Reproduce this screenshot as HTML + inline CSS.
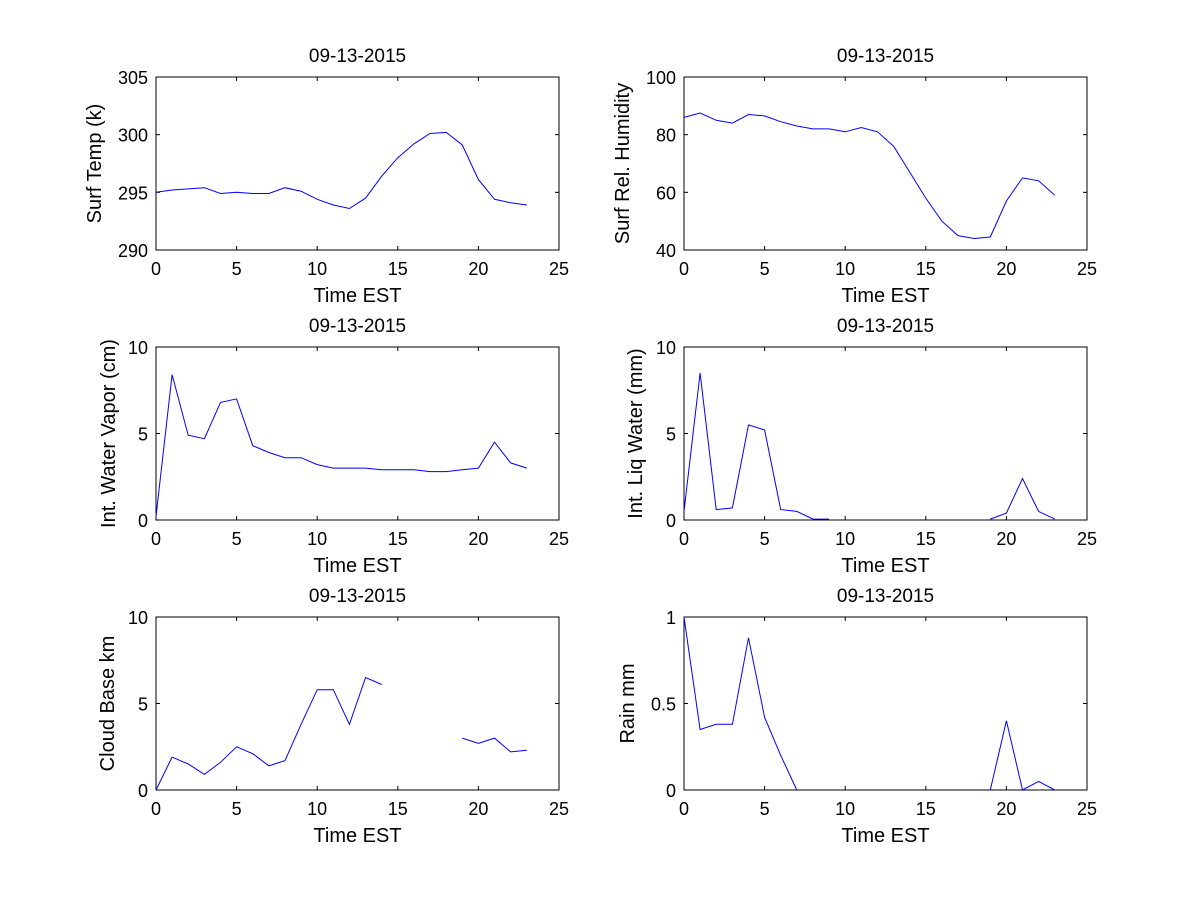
<!DOCTYPE html>
<html><head><meta charset="utf-8"><style>
html,body{margin:0;padding:0;background:#fff;}
svg text{font-family:"Liberation Sans",Arial,sans-serif;fill:#000;}
</style></head><body>
<svg id="fig" width="1200" height="900" xmlns="http://www.w3.org/2000/svg"></svg>
<script>
const hours = [0,1,2,3,4,5,6,7,8,9,10,11,12,13,14,15,16,17,18,19,20,21,22,23];
const surfTemp = [295.0,295.2,295.3,295.4,294.9,295.0,294.9,294.9,295.4,295.1,294.4,293.9,293.6,294.5,296.4,298.0,299.2,300.1,300.2,299.1,296.1,294.4,294.1,293.9];
const relHum = [86,87.5,85,84,87,86.5,84.5,83,82,82,81,82.5,81,76,67,58,50,45,44,44.5,57,65,64,59];
const waterVapor = [0.2,8.4,4.9,4.7,6.8,7.0,4.3,3.9,3.6,3.6,3.2,3.0,3.0,3.0,2.9,2.9,2.9,2.8,2.8,2.9,3.0,4.5,3.3,3.0];
const liqWater = [0.5,8.5,0.6,0.7,5.5,5.2,0.6,0.5,0.05,0.05,null,null,null,null,null,null,null,null,null,0.05,0.4,2.4,0.5,0.05];
const cloudBase = [0,1.9,1.5,0.9,1.6,2.5,2.1,1.4,1.7,3.8,5.8,5.8,3.8,6.5,6.1,null,null,null,null,3.0,2.7,3.0,2.2,2.3];
const rain = [1.0,0.35,0.38,0.38,0.88,0.42,0.2,0,null,null,null,null,null,null,null,null,null,null,null,0,0.4,0,0.05,0];
const xTicks = [0,5,10,15,20,25];

const panels = [
 {name:'surf-temp',x0:156,x1:559,y0:77,y1:250,ymin:290,ymax:305,yt:[290,295,300,305],label:'Surf Temp (k)',lo:55,data:surfTemp},
 {name:'rel-humidity',x0:684,x1:1087,y0:77,y1:250,ymin:40,ymax:100,yt:[40,60,80,100],label:'Surf Rel. Humidity',lo:55,data:relHum},
 {name:'water-vapor',x0:156,x1:559,y0:347,y1:520,ymin:0,ymax:10,yt:[0,5,10],label:'Int. Water Vapor (cm)',lo:41,data:waterVapor},
 {name:'liq-water',x0:684,x1:1087,y0:347,y1:520,ymin:0,ymax:10,yt:[0,5,10],label:'Int. Liq Water (mm)',lo:42,data:liqWater},
 {name:'cloud-base',x0:156,x1:559,y0:617,y1:790,ymin:0,ymax:10,yt:[0,5,10],label:'Cloud Base km',lo:42,data:cloudBase},
 {name:'rain',x0:684,x1:1087,y0:617,y1:790,ymin:0,ymax:1,yt:[0,0.5,1],label:'Rain mm',lo:50,data:rain}
];
const NS='http://www.w3.org/2000/svg';
const svg=document.getElementById('fig');
function mk(tag,attrs,parent){const e=document.createElementNS(NS,tag);for(const k in attrs)e.setAttribute(k,attrs[k]);(parent||svg).appendChild(e);return e;}
panels.forEach(p=>{
  const g=mk('g',{});
  
  
  const sx=v=>p.x0+(v-0)/(25-0)*(p.x1-p.x0);
  const sy=v=>p.y1-(v-p.ymin)/(p.ymax-p.ymin)*(p.y1-p.y0);
  const box=mk('rect',{x:p.x0,y:p.y0,width:p.x1-p.x0,height:p.y1-p.y0,fill:'#fff',stroke:'#000','stroke-width':1},g);
  
  
  xTicks.forEach(t=>{
    const x=sx(t);
    mk('line',{x1:x,x2:x,y1:p.y1,y2:p.y1-4,stroke:'#000'},g);
    mk('line',{x1:x,x2:x,y1:p.y0,y2:p.y0+4,stroke:'#000'},g);
    const tx=mk('text',{x:x,y:p.y1+25,'font-size':18,'text-anchor':'middle'},g);
    tx.textContent=t;
    
    
  });
  p.yt.forEach(t=>{
    const y=sy(t);
    mk('line',{x1:p.x0,x2:p.x0+4,y1:y,y2:y,stroke:'#000'},g);
    mk('line',{x1:p.x1,x2:p.x1-4,y1:y,y2:y,stroke:'#000'},g);
    const ty=mk('text',{x:p.x0-8,y:y+7,'font-size':18,'text-anchor':'end'},g);
    ty.textContent=t;
    
    
  });
  const title=mk('text',{x:(p.x0+p.x1)/2,y:p.y0-15,'font-size':19,'text-anchor':'middle'},g);
  title.textContent='09-13-2015';
  
  
  const xl=mk('text',{x:(p.x0+p.x1)/2,y:p.y1+52,'font-size':20,'text-anchor':'middle'},g);
  xl.textContent='Time EST';
  
  
  const lx=p.x0-p.lo, ly=(p.y0+p.y1)/2;
  const yl=mk('text',{x:lx,y:ly,'font-size':20,'text-anchor':'middle',transform:'rotate(-90 '+lx+' '+ly+')'},g);
  yl.textContent=p.label;
  
  
  let d='',pen=false;
  hours.forEach((h,i)=>{
    const v=p.data[i];
    if(v===null){pen=false;return;}
    d+=(pen?'L':'M')+sx(h).toFixed(1)+' '+sy(v).toFixed(1)+' ';
    pen=true;
  });
  const line=mk('path',{d:d,fill:'none',stroke:'#0000ff','stroke-width':1},g);
  
  
});
</script>
</body></html>
